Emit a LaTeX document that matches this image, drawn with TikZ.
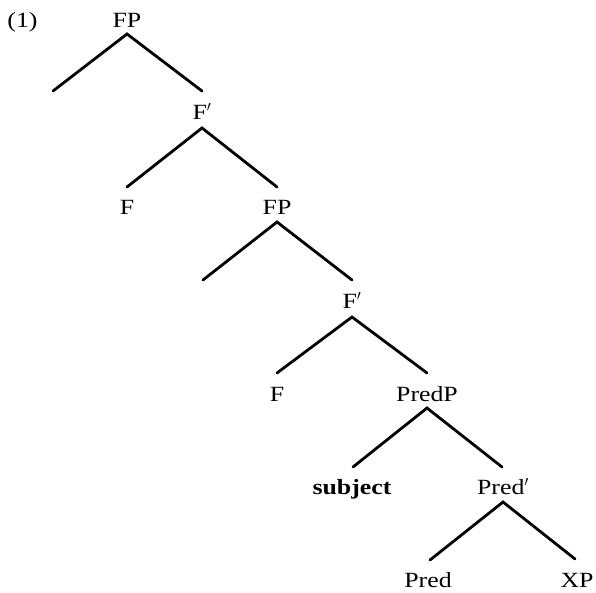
\documentclass[tikz,border=0pt]{standalone}
\usepackage{fontspec}
\setmainfont[FakeStretch=1.19]{Liberation Serif}
\begin{document}
\begin{tikzpicture}[x=1pt,y=-1pt,
  lab/.style={anchor=base,inner sep=0pt,font=\fontsize{21.7}{24}\selectfont},
  br/.style={line width=2.8pt,line cap=round}]
\useasboundingbox (0,0) rectangle (596,592);
\node[lab] (num) at (22.5,27) {(1)};
\node[lab] (fp1) at (127,27) {FP};
\node[lab] (fb1) at (202,119) {F$'$};
\node[lab] (f1) at (127,214) {F};
\node[lab] (fp2) at (277,214) {FP};
\node[lab] (fb2) at (352,308) {F$'$};
\node[lab] (f2) at (277,401) {F};
\node[lab] (predp) at (427,401) {PredP};
\node[lab] (subj) at (352,494.5) {\textbf{subject}};
\node[lab] (predb) at (503,494) {Pred$'$};
\node[lab] (pred) at (428,587) {Pred};
\node[lab] (xp) at (577,587) {XP};
% apex and end points
\coordinate (a1) at (127,34);
\coordinate (l1) at (53,91);
\coordinate (r1) at (202,91);
\coordinate (a2) at (202,128);
\coordinate (l2) at (127,187);
\coordinate (r2) at (277,187);
\coordinate (a3) at (277,222);
\coordinate (l3) at (203,280);
\coordinate (r3) at (352,280);
\coordinate (a4) at (352,317);
\coordinate (l4) at (277,373);
\coordinate (r4) at (427,373);
\coordinate (a5) at (427,408);
\coordinate (l5) at (353,467);
\coordinate (r5) at (502,467);
\coordinate (a6) at (503,502);
\coordinate (l6) at (430,560);
\coordinate (r6) at (575,559);
\foreach \i in {1,...,6}{
  \draw[br] (l\i) -- (a\i) -- (r\i);
}
\end{tikzpicture}
\end{document}
